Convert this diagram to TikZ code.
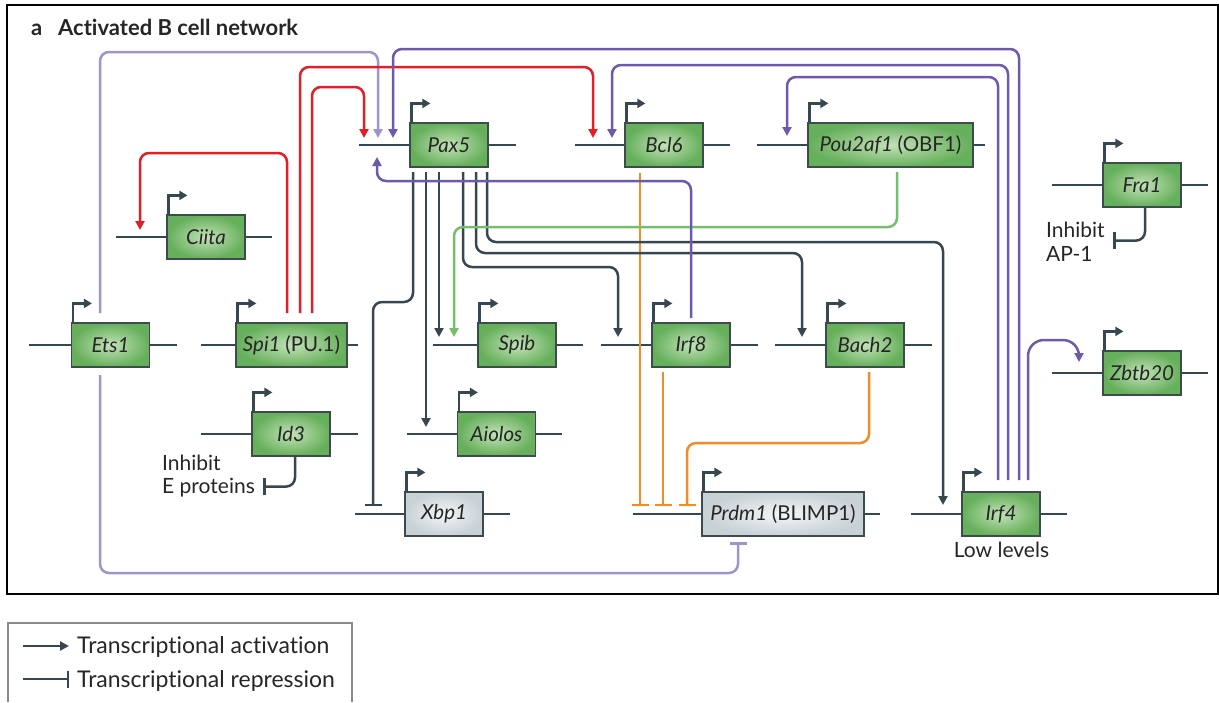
\documentclass[tikz,border=0pt]{standalone}
\usepackage{fontspec}
\setmainfont{Lato}[Ligatures=NoCommon]
\usetikzlibrary{arrows.meta,calc}
\definecolor{lineC}{HTML}{37474F}
\definecolor{boxC}{HTML}{3D4B4F}
\definecolor{gIn}{HTML}{C2E2B7}
\definecolor{gOut}{HTML}{66AF5B}
\definecolor{grIn}{HTML}{F4F6F7}
\definecolor{grOut}{HTML}{C8D1D5}
\definecolor{redC}{HTML}{E41E26}
\definecolor{lpurC}{HTML}{A194CA}
\definecolor{dpurC}{HTML}{6E5AA8}
\definecolor{orC}{HTML}{F28C28}
\definecolor{grnC}{HTML}{74BF69}
\definecolor{legC}{HTML}{8A8A8A}
\newcommand\genebits[3]{%
  \draw[dnaline] ($(#1.west)+(-#2,0)$) -- (#1.west) (#1.east) -- ($(#1.east)+(#3,0)$);
  \draw[dnaline,line width=2.4pt,-{Triangle[length=8pt,width=9pt]}] ($(#1.north west)+(2,0)$) -- ++(0,-19) -- ++(19,0);
}
\begin{document}
\begin{tikzpicture}[x=1pt,y=-1pt,
  genebox/.style={draw=boxC,line width=1.2pt,shading=radial,inner color=gIn,outer color=gOut,
    minimum height=44pt,minimum width=78pt,inner sep=0pt,text=black!85,
    font=\fontsize{20.5}{24}\selectfont\itshape},
  graybox/.style={genebox,inner color=grIn,outer color=grOut},
  dnaline/.style={draw=lineC,line width=2.7pt},
  con/.style={line width=2.5pt,rounded corners=9pt},
  act/.style={-{Triangle[length=9pt,width=9pt]}},
  rep/.style={-{Bar[width=17pt,line width=2.5pt]}},
  lbl/.style={font=\fontsize{21}{25}\selectfont,inner sep=0pt,text=black!85},
  leglbl/.style={font=\fontsize{23}{27}\selectfont,inner sep=0pt,text=black!85}]
\useasboundingbox (0,0) rectangle (1219,702);
\fill[white] (0,0) rectangle (1219,702);
% frame
\draw[black,line width=2.6pt] (7,5) rectangle (1218,594);
\node[anchor=base west,inner sep=0pt,font=\fontsize{22}{26}\selectfont\bfseries,text=black!85] (tla) at (31,35) {a};
\node[anchor=base west,inner sep=0pt,font=\fontsize{22}{26}\selectfont\bfseries,text=black!85] (ttl) at (58,35) {Activated B cell network};

% genes
\node[genebox] (pax5) at (449,145) {Pax5};
\node[genebox] (bcl6) at (664,145) {Bcl6};
\node[genebox,minimum width=165pt] (pou) at (890.5,145) {Pou2af1 \textup{(OBF1)}};
\node[genebox] (fra1) at (1142,185) {Fra1};
\node[genebox] (ciita) at (206,237) {Ciita};
\node[genebox] (ets1) at (110.5,345) {Ets1};
\node[genebox,minimum width=111pt] (spi1) at (291.5,345) {Spi1 \textup{(PU.1)}};
\node[genebox] (spib) at (517,345) {Spib};
\node[genebox] (irf8) at (691,345) {Irf8};
\node[genebox] (bach2) at (865,345) {Bach2};
\node[genebox] (zbtb) at (1142,373) {Zbtb20};
\node[genebox] (id3) at (291,434) {Id3};
\node[genebox] (aiolos) at (496.5,434) {Aiolos};
\node[graybox] (xbp1) at (444,514) {Xbp1};
\node[graybox,minimum width=162pt] (prdm1) at (783,514) {Prdm1 \textup{(BLIMP1)}};
\node[genebox] (irf4) at (1001,514) {Irf4};

\genebits{pax5}{50}{27}
\genebits{bcl6}{49}{26}
\genebits{pou}{50}{11}
\genebits{fra1}{50}{26}
\genebits{ciita}{50}{26}
\genebits{ets1}{42}{27}
\genebits{spi1}{34}{10}
\genebits{spib}{44}{26}
\genebits{irf8}{50}{27}
\genebits{bach2}{50}{27}
\genebits{zbtb}{50}{26}
\genebits{id3}{50}{27}
\genebits{aiolos}{50}{26}
\genebits{xbp1}{49}{26}
\genebits{prdm1}{68}{15}
\genebits{irf4}{50}{26}

% labels
\node[lbl,anchor=base west] (inhE1) at (162,470) {Inhibit};
\node[lbl,anchor=base west] (inhE2) at (162,493) {E proteins};
\node[lbl,anchor=base west] (inhA1) at (1046,237) {Inhibit};
\node[lbl,anchor=base west] (inhA2) at (1046,261) {AP-1};
\node[lbl,anchor=base] (low) at (1001.5,557) {Low levels};

% orange repression
\draw[orC,con,rep] ($(bcl6.center)+(-24,28)$) -- ($(prdm1.center)+(-143,-8)$);
\draw[orC,con,rep] ($(irf8.center)+(-28,27)$) -- ($(prdm1.center)+(-120,-8)$);
\draw[orC,con,rep] ($(bach2.center)+(4,27)$) -- ++(0,71) -| ($(prdm1.center)+(-96,-8)$);

% dark Pax5 outputs
\draw[lineC,con,rep] ($(pax5.center)+(-36,27)$) -- ++(0,130) -| ($(xbp1.center)+(-71,-8)$);
\draw[lineC,con,act] ($(pax5.center)+(-23,27)$) -- ($(aiolos.center)+(-70.5,-7)$);
\draw[lineC,con,act] ($(pax5.center)+(-10,27)$) -- ($(spib.center)+(-78,-8)$);
\draw[lineC,con,act] ($(pax5.center)+(14,27)$) -- ++(0,95) -| ($(irf8.center)+(-73,-8)$);
\draw[lineC,con,act] ($(pax5.center)+(27,27)$) -- ++(0,81) -| ($(bach2.center)+(-63,-8)$);
\draw[lineC,con,act] ($(pax5.center)+(38,27)$) -- ++(0,70) -| ($(irf4.center)+(-58,-9)$);

% green
\draw[grnC,con,act] ($(pou.center)+(6.5,27)$) -- ++(0,55) -| ($(spib.center)+(-63,-8)$);

% inhibit stubs
\draw[lineC,con,rep] (id3.south) ++(4,0) -- ++(0,30) -- ++(-32,0);
\draw[lineC,con,rep] (fra1.south) ++(3,0) -- ++(0,33) -- ++(-32,0);

% purple
\draw[dpurC,con,act] ($(irf8.center)+(0,-27)$) -- ++(0,-137) -| ($(pax5.center)+(-72,12)$);
\draw[lpurC,con,act] ($(ets1.center)+(-10.5,-32)$) -- ++(0,-261) -| ($(pax5.center)+(-71,-7)$);
\draw[lpurC,con,rep] ($(ets1.center)+(-10.5,30)$) -- ++(0,198) -| ($(prdm1.center)+(-45,28)$);

% red
\draw[redC,con,act] ($(spi1.center)+(-4.5,-32)$) -- ++(0,-160) -| ($(ciita.center)+(-66,-7)$);
\draw[redC,con,act] ($(spi1.center)+(8.5,-32)$) -- ++(0,-246) -| ($(bcl6.center)+(-71,-7)$);
\draw[redC,con,act] ($(spi1.center)+(20.5,-32)$) -- ++(0,-226) -| ($(pax5.center)+(-85,-7)$);

% Irf4 purple
\draw[dpurC,con,act] ($(irf4.center)+(18,-34)$) -- ++(0,-431) -| ($(pax5.center)+(-56,-7)$);
\draw[dpurC,con,act] ($(irf4.center)+(7,-34)$) -- ++(0,-415) -| ($(bcl6.center)+(-52,-7)$);
\draw[dpurC,con,act] ($(irf4.center)+(-3,-34)$) -- ++(0,-403) -| ($(pou.center)+(-103.5,-9)$);
\draw[dpurC,con,rounded corners=16pt,act] ($(irf4.center)+(27,-34)$) -- ++(0,-140) -| ($(zbtb.center)+(-63,-11)$);

% legend
\draw[legC,line width=1.3pt] (8,702) -- (8,623) -- (352,623) -- (352,702);
\node[leglbl,anchor=base west] (legact) at (77,653) {Transcriptional activation};
\node[leglbl,anchor=base west] (legrep) at (77,687) {Transcriptional repression};
\coordinate (la0) at (23,646);
\coordinate (la1) at (69,646);
\coordinate (lr0) at (23,679);
\coordinate (lr1) at (69,679);
\draw[lineC,line width=2.5pt,-{Triangle[length=9pt,width=9pt]}] (la0) -- (la1);
\draw[lineC,line width=2.5pt,-{Bar[width=17pt,line width=2.5pt]}] (lr0) -- (lr1);
\end{tikzpicture}
\end{document}
